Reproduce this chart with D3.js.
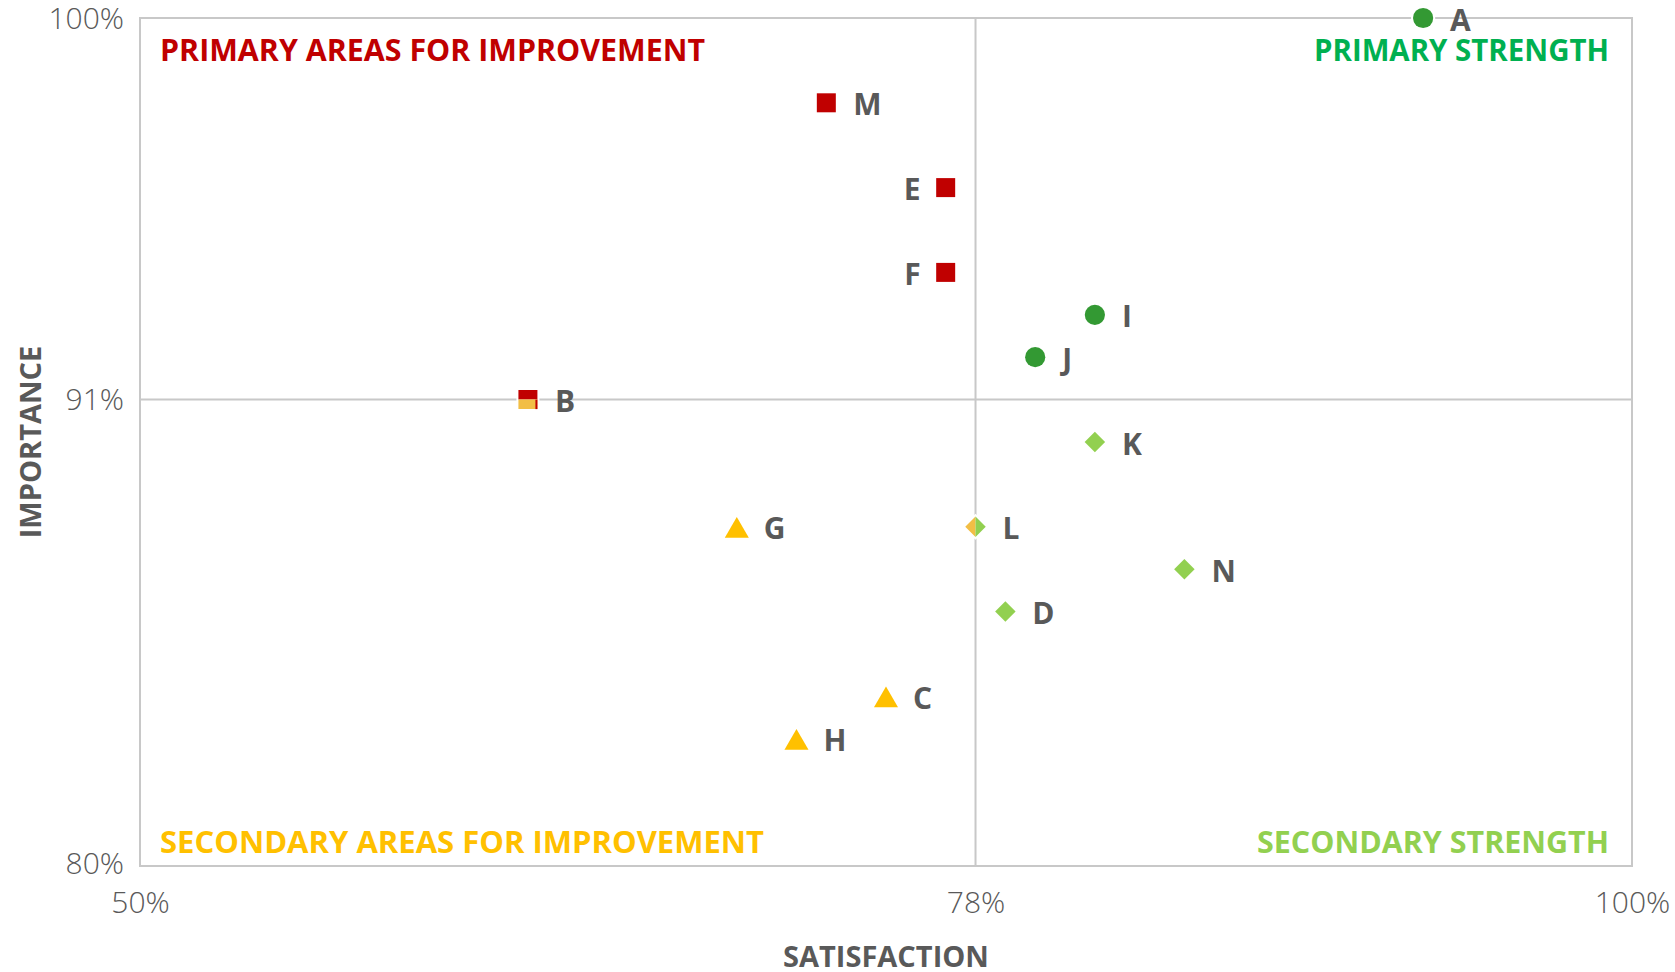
<!DOCTYPE html>
<html lang="en">
<head>
  <meta charset="UTF-8">
  <title>Importance vs Satisfaction</title>
  <script src="https://d3js.org/d3.v7.min.js"></script>
  <style>
    body { margin: 0; background: #fff; }
    svg text { user-select: none; }
    .tick-label { font-family: "Open Sans", "Lato", sans-serif; font-weight: 300; fill: #595959; font-size: 30px; }
    .axis-title { font-family: "Open Sans", sans-serif; font-weight: 700; fill: #595959; font-size: 29px; }
    .quad { font-family: "Open Sans", sans-serif; font-weight: 700; font-size: 30px; }
    .pt-label { font-family: "Open Sans", sans-serif; font-weight: 700; fill: #595959; font-size: 30px; }
  </style>
</head>
<body>
  <svg width="1675" height="972"></svg>
  <script>
    // data
    const labels       = ["A", "B", "C", "D", "E", "F", "G", "H", "I", "J", "K", "L", "M", "N"];
    const satisfaction = [93, 63, 75, 79, 77, 77, 70, 72, 82, 80, 82, 78, 73, 85];
    const importance   = [100, 91, 84, 86, 96, 94, 88, 83, 93, 92, 90, 88, 98, 87];
    const labelsOnLeft = ["E", "F"];
    const xTicks = [50, 78, 100];
    const yTicks = [80, 91, 100];
    const xMid = 78, yMid = 91;
    const quadrantNames = ["PRIMARY AREAS FOR IMPROVEMENT", "PRIMARY STRENGTH",
                           "SECONDARY AREAS FOR IMPROVEMENT", "SECONDARY STRENGTH"];

    const svg = d3.select("svg");
    const pLeft = 140, pRight = 1632, pTop = 18, pBottom = 866;

    const x = d3.scaleLinear().domain([50, 100]).range([pLeft, pRight]);
    const y = d3.scaleLinear().domain([80, 100]).range([pBottom, pTop]);

    const colors = {
      red: "#C00000", circle: "#339933", diamond: "#92D050",
      tri: "#FFC000", half: "#F2BE45"
    };

    // plot frame + quadrant lines
    svg.append("rect")
      .attr("x", pLeft).attr("y", pTop)
      .attr("width", pRight - pLeft).attr("height", pBottom - pTop)
      .attr("fill", "none").attr("stroke", "#C8C8C8").attr("stroke-width", 2);

    svg.append("line")
      .attr("x1", x(xMid)).attr("x2", x(xMid))
      .attr("y1", pTop).attr("y2", pBottom)
      .attr("stroke", "#C8C8C8").attr("stroke-width", 2);
    svg.append("line")
      .attr("x1", pLeft).attr("x2", pRight)
      .attr("y1", y(yMid)).attr("y2", y(yMid))
      .attr("stroke", "#C8C8C8").attr("stroke-width", 2);

    // axes (labels only)
    const xAxis = svg.append("g")
      .attr("transform", `translate(0,${pBottom + 23})`)
      .call(d3.axisBottom(x).tickValues(xTicks).tickSize(0).tickFormat(d => d + "%"));
    xAxis.select(".domain").remove();
    xAxis.selectAll("text").attr("class", "tick-label").attr("dy", "0.71em")
      .attr("font-size", null).attr("fill", null);

    const yAxis = svg.append("g")
      .attr("transform", `translate(${pLeft - 16},0)`)
      .call(d3.axisLeft(y).tickValues(yTicks).tickSize(0).tickFormat(d => d + "%"));
    yAxis.select(".domain").remove();
    yAxis.selectAll("text").attr("class", "tick-label").attr("x", 0)
      .attr("font-size", null).attr("fill", null);
    yAxis.selectAll(".tick").filter(d => d === 100).select("text").attr("dy", "0.36em");
    yAxis.selectAll(".tick").filter(d => d === 80).select("text").attr("dy", "0.25em");

    // axis titles
    svg.append("text").attr("class", "axis-title")
      .attr("x", (pLeft + pRight) / 2).attr("y", 955)
      .attr("text-anchor", "middle").attr("dominant-baseline", "central")
      .text("SATISFACTION");
    svg.append("text").attr("class", "axis-title")
      .attr("transform", `translate(29,${(pTop + pBottom) / 2}) rotate(-90)`)
      .attr("text-anchor", "middle").attr("dominant-baseline", "central")
      .text("IMPORTANCE");

    // quadrant captions
    const quads = [
      { t: quadrantNames[0], x: pLeft + 20, y: 49, anchor: "start", c: colors.red, w: 545 },
      { t: quadrantNames[1], x: pRight - 23, y: 49, anchor: "end", c: "#00B050", w: 295 },
      { t: quadrantNames[2], x: pLeft + 20, y: 841, anchor: "start", c: colors.tri, w: 604 },
      { t: quadrantNames[3], x: pRight - 23, y: 841, anchor: "end", c: colors.diamond, w: 352 }
    ];
    svg.selectAll(".quad").data(quads).join("text")
      .attr("class", "quad")
      .attr("x", d => d.x).attr("y", d => d.y)
      .attr("text-anchor", d => d.anchor).attr("dominant-baseline", "central")
      .attr("textLength", d => d.w).attr("lengthAdjust", "spacingAndGlyphs")
      .attr("fill", d => d.c)
      .text(d => d.t);

    // points
    const points = labels.map((l, i) => ({ label: l, sx: satisfaction[i], im: importance[i] }));

    function shapeFor(p) {
      if (p.sx < xMid && p.im >= yMid) return "square";
      if (p.sx > xMid && p.im > yMid) return "circle";
      if (p.sx >= xMid && p.im < yMid) return "diamond";
      return "triangle";
    }
    const symbols = {
      square: d3.symbol().type(d3.symbolSquare).size(361)(),
      circle: d3.symbol().type(d3.symbolCircle).size(320)(),
      diamond: d3.symbol().type(d3.symbolSquare).size(210)(),
      triangle: d3.symbol().type(d3.symbolTriangle).size(250)()
    };
    const fills = { square: colors.red, circle: colors.circle, diamond: colors.diamond, triangle: colors.tri };

    const defs = svg.append("defs");
    defs.append("clipPath").attr("id", "clipTop")
      .append("rect").attr("x", -20).attr("y", -20).attr("width", 40).attr("height", 20);
    defs.append("clipPath").attr("id", "clipBottom")
      .append("rect").attr("x", -20).attr("y", 0).attr("width", 40).attr("height", 20);
    defs.append("clipPath").attr("id", "clipLeft")
      .append("rect").attr("x", -20).attr("y", -20).attr("width", 20).attr("height", 40);
    defs.append("clipPath").attr("id", "clipRight")
      .append("rect").attr("x", 0).attr("y", -20).attr("width", 20).attr("height", 40);

    const g = svg.append("g");
    points.forEach(p => {
      const shape = shapeFor(p);
      const pg = g.append("g").attr("transform", `translate(${x(p.sx)},${y(p.im)})`);
      const rot = shape === "diamond" ? "rotate(45)" : shape === "triangle" ? "translate(0,4)" : null;
      // white halo
      pg.append("path").attr("d", symbols[shape]).attr("transform", rot)
        .attr("fill", "#fff").attr("stroke", "#fff").attr("stroke-width", 4);
      if (p.im === yMid && p.sx < xMid) {
        // on the horizontal divider: half red, half gold
        pg.append("g").attr("clip-path", "url(#clipTop)")
          .append("path").attr("d", symbols[shape]).attr("fill", colors.red);
        pg.append("g").attr("clip-path", "url(#clipBottom)")
          .append("path").attr("d", symbols[shape]).attr("fill", colors.half);
        pg.append("rect").attr("x", 7.5).attr("y", 0).attr("width", 2).attr("height", 9.5).attr("fill", colors.red);
      } else if (p.sx === xMid) {
        // on the vertical divider: half gold, half green
        pg.append("g").attr("clip-path", "url(#clipLeft)")
          .append("path").attr("d", symbols[shape]).attr("transform", rot).attr("fill", colors.half);
        pg.append("g").attr("clip-path", "url(#clipRight)")
          .append("path").attr("d", symbols[shape]).attr("transform", rot).attr("fill", colors.diamond);
      } else {
        pg.append("path").attr("d", symbols[shape]).attr("transform", rot)
          .attr("fill", fills[shape]);
      }
      const onLeft = labelsOnLeft.includes(p.label);
      g.append("text").attr("class", "pt-label")
        .attr("x", x(p.sx) + (onLeft ? -25 : 27))
        .attr("y", y(p.im) + 1)
        .attr("text-anchor", onLeft ? "end" : "start")
        .attr("dominant-baseline", "central")
        .text(p.label);
    });
  </script>
</body>
</html>
